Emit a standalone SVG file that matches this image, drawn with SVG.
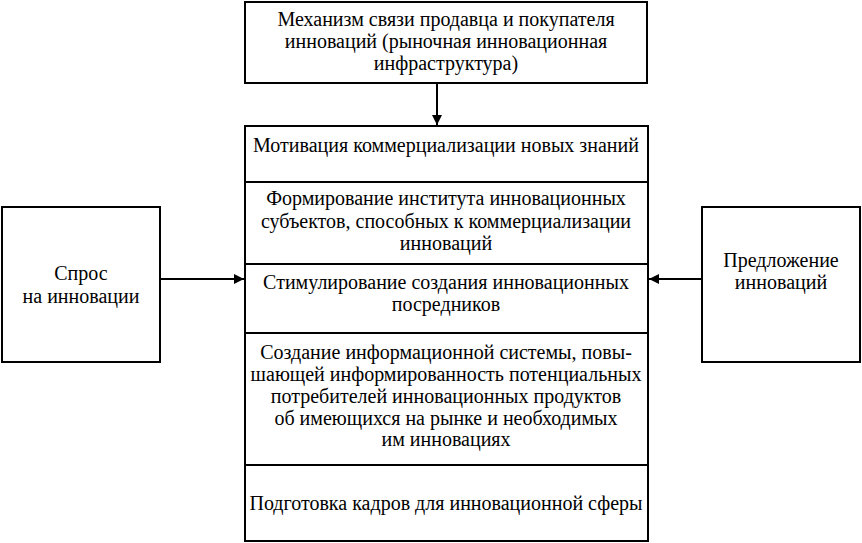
<svg xmlns="http://www.w3.org/2000/svg" width="862" height="543" viewBox="0 0 862 543">
<defs>
<marker id="ahL" viewBox="0 0 10 10" refX="10" refY="5" markerWidth="12" markerHeight="10" markerUnits="userSpaceOnUse" orient="auto">
<path d="M0,0 L10,5 L0,10 z" fill="#000"/>
</marker>
</defs>
<g id="top">
<rect x="245" y="2" width="402" height="81" fill="#fff" stroke="#000" stroke-width="2"/>
<text font-family="Liberation Serif" font-size="20" text-anchor="middle" x="446" y="26">Механизм связи продавца и покупателя</text>
<text font-family="Liberation Serif" font-size="20" text-anchor="middle" x="446" y="48">инноваций (рыночная инновационная</text>
<text font-family="Liberation Serif" font-size="20" text-anchor="middle" x="446" y="70">инфраструктура)</text>
</g>
<g id="main">
<rect x="245" y="126" width="403" height="415" fill="#fff" stroke="#000" stroke-width="2"/>
<path d="M245 182H648M245 264H648M245 333H648M245 465H648" stroke="#000" stroke-width="2"/>
</g>
<g id="s1"><text font-family="Liberation Serif" font-size="20" text-anchor="middle" x="446" y="152">Мотивация коммерциализации новых знаний</text></g>
<g id="s2">
<text font-family="Liberation Serif" font-size="20" text-anchor="middle" x="446" y="205">Формирование института инновационных</text>
<text font-family="Liberation Serif" font-size="20" text-anchor="middle" x="446" y="228">субъектов, способных к коммерциализации</text>
<text font-family="Liberation Serif" font-size="20" text-anchor="middle" x="446" y="250">инноваций</text>
</g>
<g id="s3">
<text font-family="Liberation Serif" font-size="20" text-anchor="middle" x="446" y="289">Стимулирование создания инновационных</text>
<text font-family="Liberation Serif" font-size="20" text-anchor="middle" x="446" y="311">посредников</text>
</g>
<g id="s4">
<text font-family="Liberation Serif" font-size="20" text-anchor="middle" x="446" y="359">Создание информационной системы, повы-</text>
<text font-family="Liberation Serif" font-size="20" text-anchor="middle" x="446" y="381">шающей информированность потенциальных</text>
<text font-family="Liberation Serif" font-size="20" text-anchor="middle" x="446" y="403">потребителей инновационных продуктов</text>
<text font-family="Liberation Serif" font-size="20" text-anchor="middle" x="446" y="425">об имеющихся на рынке и необходимых</text>
<text font-family="Liberation Serif" font-size="20" text-anchor="middle" x="446" y="446">им инновациях</text>
</g>
<g id="s5"><text font-family="Liberation Serif" font-size="20" text-anchor="middle" x="446" y="510">Подготовка кадров для инновационной сферы</text></g>
<g id="demand">
<rect x="2" y="207" width="158" height="155" fill="#fff" stroke="#000" stroke-width="2"/>
<text font-family="Liberation Serif" font-size="20" text-anchor="middle" x="81" y="280">Спрос</text>
<text font-family="Liberation Serif" font-size="20" text-anchor="middle" x="81" y="303">на инновации</text>
</g>
<g id="supply">
<rect x="702" y="207" width="158" height="155" fill="#fff" stroke="#000" stroke-width="2"/>
<text font-family="Liberation Serif" font-size="20" text-anchor="middle" x="781" y="267">Предложение</text>
<text font-family="Liberation Serif" font-size="20" text-anchor="middle" x="781" y="289">инноваций</text>
</g>
<g id="connectors" stroke="#000" stroke-width="2" fill="none">
<line x1="437" y1="83" x2="437" y2="125" marker-end="url(#ahL)"/>
<line x1="160" y1="279" x2="244" y2="279" marker-end="url(#ahL)"/>
<line x1="702" y1="279" x2="649" y2="279" marker-end="url(#ahL)"/>
</g>
</svg>
